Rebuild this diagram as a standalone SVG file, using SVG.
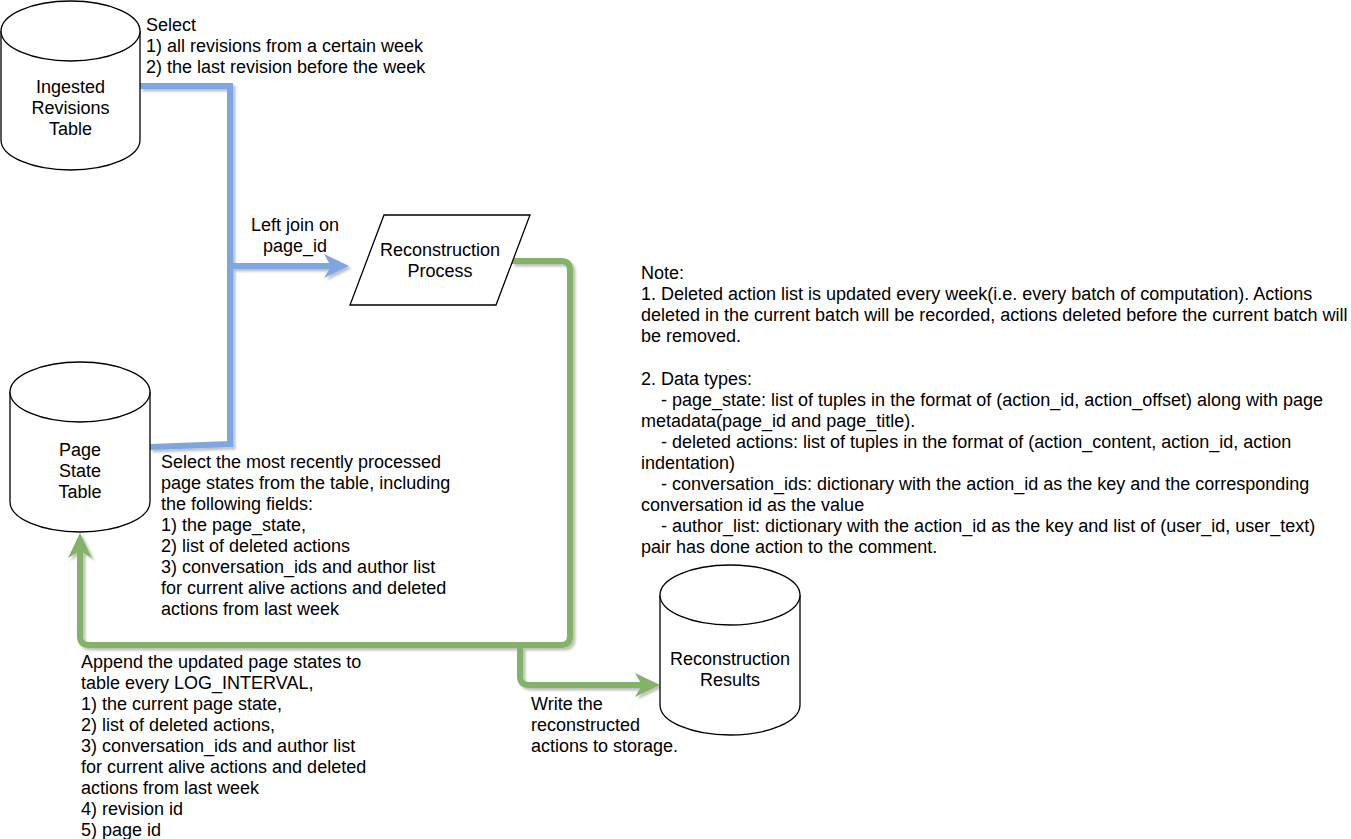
<svg xmlns="http://www.w3.org/2000/svg" width="1351" height="839" viewBox="0 0 1351 839">
<style>
text{font-family:"Liberation Sans",Arial,sans-serif;font-size:18px;fill:#000}
.c{text-anchor:middle}
.shape{fill:#fff;stroke:#000;stroke-width:1.3}
.blue{fill:none;stroke:#7EA6E0;stroke-width:6}
.green{fill:none;stroke:#82B366;stroke-width:6}
</style>
<defs>
<filter id="sh" x="-10%" y="-10%" width="130%" height="130%">
<feDropShadow dx="2.5" dy="2.5" stdDeviation="1.2" flood-color="#000" flood-opacity="0.25"/>
</filter>
<marker id="ab" markerUnits="userSpaceOnUse" markerWidth="26" markerHeight="24" refX="7" refY="12" orient="auto" overflow="visible">
<path d="M0,0 L25,12 L0,24 L7,12 Z" fill="#7EA6E0"/>
</marker>
<marker id="ag" markerUnits="userSpaceOnUse" markerWidth="26" markerHeight="24" refX="7" refY="12" orient="auto" overflow="visible">
<path d="M0,0 L25,12 L0,24 L7,12 Z" fill="#82B366"/>
</marker>
</defs>
<rect width="1351" height="839" fill="#fff"/>

<g id="connectors" filter="url(#sh)">
<path class="blue" d="M140,86 H230 V266 H331" marker-end="url(#ab)"/>
<path class="blue" d="M150,447 L230,444 V266"/>
<path class="green" d="M512,261 H561 Q570,261 570,270 V636 Q570,645 561,645 H89 Q80,645 80,636 V551" marker-end="url(#ag)"/>
<path class="green" d="M520,645 V676 Q520,685 529,685 H642" marker-end="url(#ag)"/>
</g>

<g id="ingested">
<path class="shape" d="M1,31 A69.5,30 0 0 1 140,31 V140 A69.5,30 0 0 1 1,140 Z"/>
<path class="shape" fill="none" d="M1,31 A69.5,30 0 0 0 140,31"/>
<text class="c" x="70.5" y="93">Ingested</text>
<text class="c" x="70.5" y="114">Revisions</text>
<text class="c" x="70.5" y="135">Table</text>
</g>

<g id="pagestate">
<path class="shape" d="M10,392 A70,30 0 0 1 150,392 V502 A70,30 0 0 1 10,502 Z"/>
<path class="shape" fill="none" d="M10,392 A70,30 0 0 0 150,392"/>
<text class="c" x="80" y="456">Page</text>
<text class="c" x="80" y="477">State</text>
<text class="c" x="80" y="498">Table</text>
</g>

<g id="results">
<path class="shape" d="M660,595 A70,30 0 0 1 800,595 V705 A70,30 0 0 1 660,705 Z"/>
<path class="shape" fill="none" d="M660,595 A70,30 0 0 0 800,595"/>
<text class="c" x="730" y="665">Reconstruction</text>
<text class="c" x="730" y="686">Results</text>
</g>

<g id="process">
<path class="shape" d="M384,215 H530 L496,305 H350 Z"/>
<text class="c" x="440" y="256">Reconstruction</text>
<text class="c" x="440" y="277">Process</text>
</g>

<g id="labels">
<text x="146" y="31">Select</text>
<text x="146" y="52">1) all revisions from a certain week</text>
<text x="146" y="73">2) the last revision before the week</text>

<text class="c" x="295" y="231">Left join on</text>
<text class="c" x="295" y="252">page_id</text>

<text x="161" y="468">Select the most recently processed</text>
<text x="161" y="489">page states from the table, including</text>
<text x="161" y="510">the following fields:</text>
<text x="161" y="531">1) the page_state,</text>
<text x="161" y="552">2) list of deleted actions</text>
<text x="161" y="573">3) conversation_ids and author list</text>
<text x="161" y="594">for current alive actions and deleted</text>
<text x="161" y="615">actions from last week</text>

<text x="81" y="668">Append the updated page states to</text>
<text x="81" y="689">table every LOG_INTERVAL,</text>
<text x="81" y="710">1) the current page state,</text>
<text x="81" y="731">2) list of deleted actions,</text>
<text x="81" y="752">3) conversation_ids and author list</text>
<text x="81" y="773">for current alive actions and deleted</text>
<text x="81" y="794">actions from last week</text>
<text x="81" y="815">4) revision id</text>
<text x="81" y="836">5) page id</text>

<text x="531" y="710">Write the</text>
<text x="531" y="731">reconstructed</text>
<text x="531" y="752">actions to storage.</text>
</g>

<g id="note">
<text x="641" y="279">Note:</text>
<text x="641" y="300">1. Deleted action list is updated every week(i.e. every batch of computation). Actions</text>
<text x="641" y="321">deleted in the current batch will be recorded, actions deleted before the current batch will</text>
<text x="641" y="342">be removed.</text>
<text x="641" y="385">2. Data types:</text>
<text x="661" y="406">- page_state: list of tuples in the format of (action_id, action_offset) along with page</text>
<text x="641" y="427">metadata(page_id and page_title).</text>
<text x="661" y="448">- deleted actions: list of tuples in the format of (action_content, action_id, action</text>
<text x="641" y="469">indentation)</text>
<text x="661" y="490">- conversation_ids: dictionary with the action_id as the key and the corresponding</text>
<text x="641" y="511">conversation id as the value</text>
<text x="661" y="532">- author_list: dictionary with the action_id as the key and list of (user_id, user_text)</text>
<text x="641" y="553">pair has done action to the comment.</text>
</g>
</svg>
